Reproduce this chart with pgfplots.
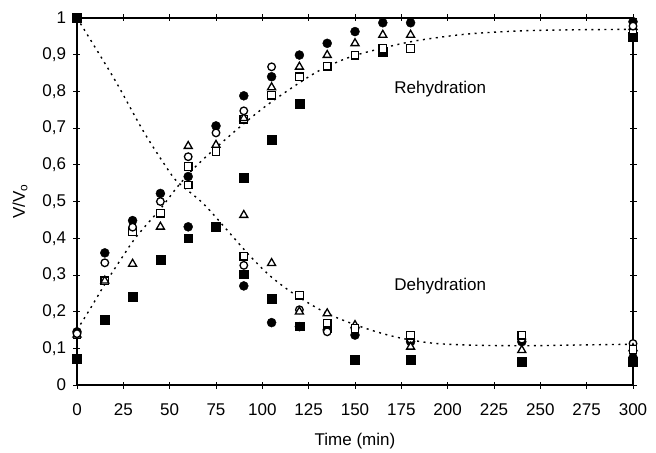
\documentclass[border=0pt]{standalone}
\usepackage{fontspec}
\setmainfont{Liberation Sans}
\usepackage{pgfplots}
\pgfplotsset{compat=1.18}

\pgfplotsset{
  fc/.style={only marks, mark=*, mark size=4.5pt, mark options={fill=black, draw=black}},
  oc/.style={only marks, mark=*, mark size=3.8pt, mark options={fill=white, draw=black, line width=1.3pt}},
  tr/.style={only marks, mark=triangle*, mark size=4.6pt, mark options={fill=white, draw=black, line width=1.3pt}},
  os/.style={only marks, mark=square*, mark size=3.8pt, mark options={fill=white, draw=black, line width=1.3pt}},
  fs/.style={only marks, mark=square*, mark size=4.4pt, mark options={fill=black, draw=black}},
  fit/.style={no marks, black, line width=1.4pt, dash pattern=on 2pt off 4.5pt, smooth, tension=0.5},
}

\begin{document}
\begin{tikzpicture}
\begin{axis}[
  scale only axis, width=556pt, height=367pt,
  xmin=0, xmax=300, ymin=0, ymax=1,
  xtick={0,25,50,75,100,125,150,175,200,225,250,275,300},
  ytick={0,0.1,0.2,0.3,0.4,0.5,0.6,0.7,0.8,0.9,1},
  tick align=center, major tick length=7pt,
  tick style={black, line width=0.7pt},
  axis line style={black, line width=1.3pt},
  font=\fontsize{17}{20}\selectfont,
  /pgf/number format/assume math mode=true,
  yticklabel style={xshift=-4pt, /pgf/number format/use comma, /pgf/number format/fixed, /pgf/number format/precision=1},
  xticklabel style={yshift=-12pt},
  xlabel={Time (min)}, ylabel={V/V\textsubscript{o}},
  xlabel style={yshift=-10pt},
  ylabel style={yshift=8pt},
  clip=false,
]
% fitted curves
\addplot[fit] coordinates {(0,0.15)(8,0.215)(16,0.283)(24,0.345)(32,0.404)(45,0.48)(55,0.545)(66,0.605)(86,0.695)(104,0.768)(129,0.852)(147,0.893)(165,0.918)(183,0.938)(210,0.956)(240,0.965)(270,0.968)(300,0.969)};
\addplot[fit] coordinates {(0,1)(20,0.835)(36,0.69)(50,0.58)(55,0.55)(68,0.495)(81,0.422)(92,0.359)(104,0.298)(118,0.245)(135,0.195)(153,0.159)(171,0.132)(190,0.115)(210,0.109)(240,0.107)(270,0.109)(300,0.111)};

% rehydration
\addplot[fs] coordinates {(0,0.071)(15,0.177)(30,0.241)(45,0.342)(60,0.40)(75,0.431)(90,0.565)(105,0.668)(120,0.766)(165,0.908)(300,0.949)};
\addplot[fc] coordinates {(0,0.145)(15,0.36)(30,0.448)(45,0.522)(60,0.568)(75,0.706)(90,0.788)(105,0.84)(120,0.899)(135,0.931)(150,0.963)(165,0.987)(180,0.987)(300,0.99)};
\addplot[os] coordinates {(0,0.137)(15,0.284)(30,0.418)(45,0.468)(60,0.545)(75,0.636)(90,0.724)(105,0.79)(120,0.84)(135,0.869)(150,0.899)(165,0.917)(180,0.917)(300,0.967)};
\addplot[tr] coordinates {(0,0.137)(15,0.284)(30,0.33)(45,0.431)(60,0.651)(75,0.654)(90,0.727)(105,0.811)(120,0.867)(135,0.899)(150,0.931)(165,0.954)(180,0.954)(300,0.975)};
\addplot[oc] coordinates {(0,0.14)(15,0.333)(30,0.43)(45,0.5)(60,0.622)(75,0.687)(90,0.747)(105,0.867)(300,0.978)};

% dehydration
\addplot[fc] coordinates {(0,1)(60,0.431)(90,0.27)(105,0.17)(120,0.159)(135,0.15)(150,0.136)(180,0.118)(240,0.118)(300,0.075)};
\addplot[fs] coordinates {(90,0.302)(105,0.236)(120,0.16)(135,0.155)(150,0.07)(180,0.07)(240,0.064)(300,0.064)};
\addplot[oc] coordinates {(90,0.326)(120,0.205)(135,0.145)(150,0.154)(180,0.125)(240,0.125)(300,0.113)};
\addplot[tr] coordinates {(90,0.463)(105,0.332)(120,0.2)(135,0.195)(150,0.163)(180,0.104)(240,0.095)(300,0.1)};
\addplot[os] coordinates {(60,0.595)(90,0.351)(120,0.245)(135,0.168)(150,0.154)(180,0.136)(240,0.136)(300,0.097)};
\addplot[fs] coordinates {(0,1)};

\node[font=\fontsize{17}{20}\selectfont] at (axis cs:196,0.805) {Rehydration};
\node[font=\fontsize{17}{20}\selectfont] at (axis cs:196,0.27) {Dehydration};
\end{axis}
\path ([xshift=-77pt,yshift=-67pt]current axis.south west) rectangle ([xshift=23pt,yshift=18pt]current axis.north east);
\end{tikzpicture}
\end{document}
